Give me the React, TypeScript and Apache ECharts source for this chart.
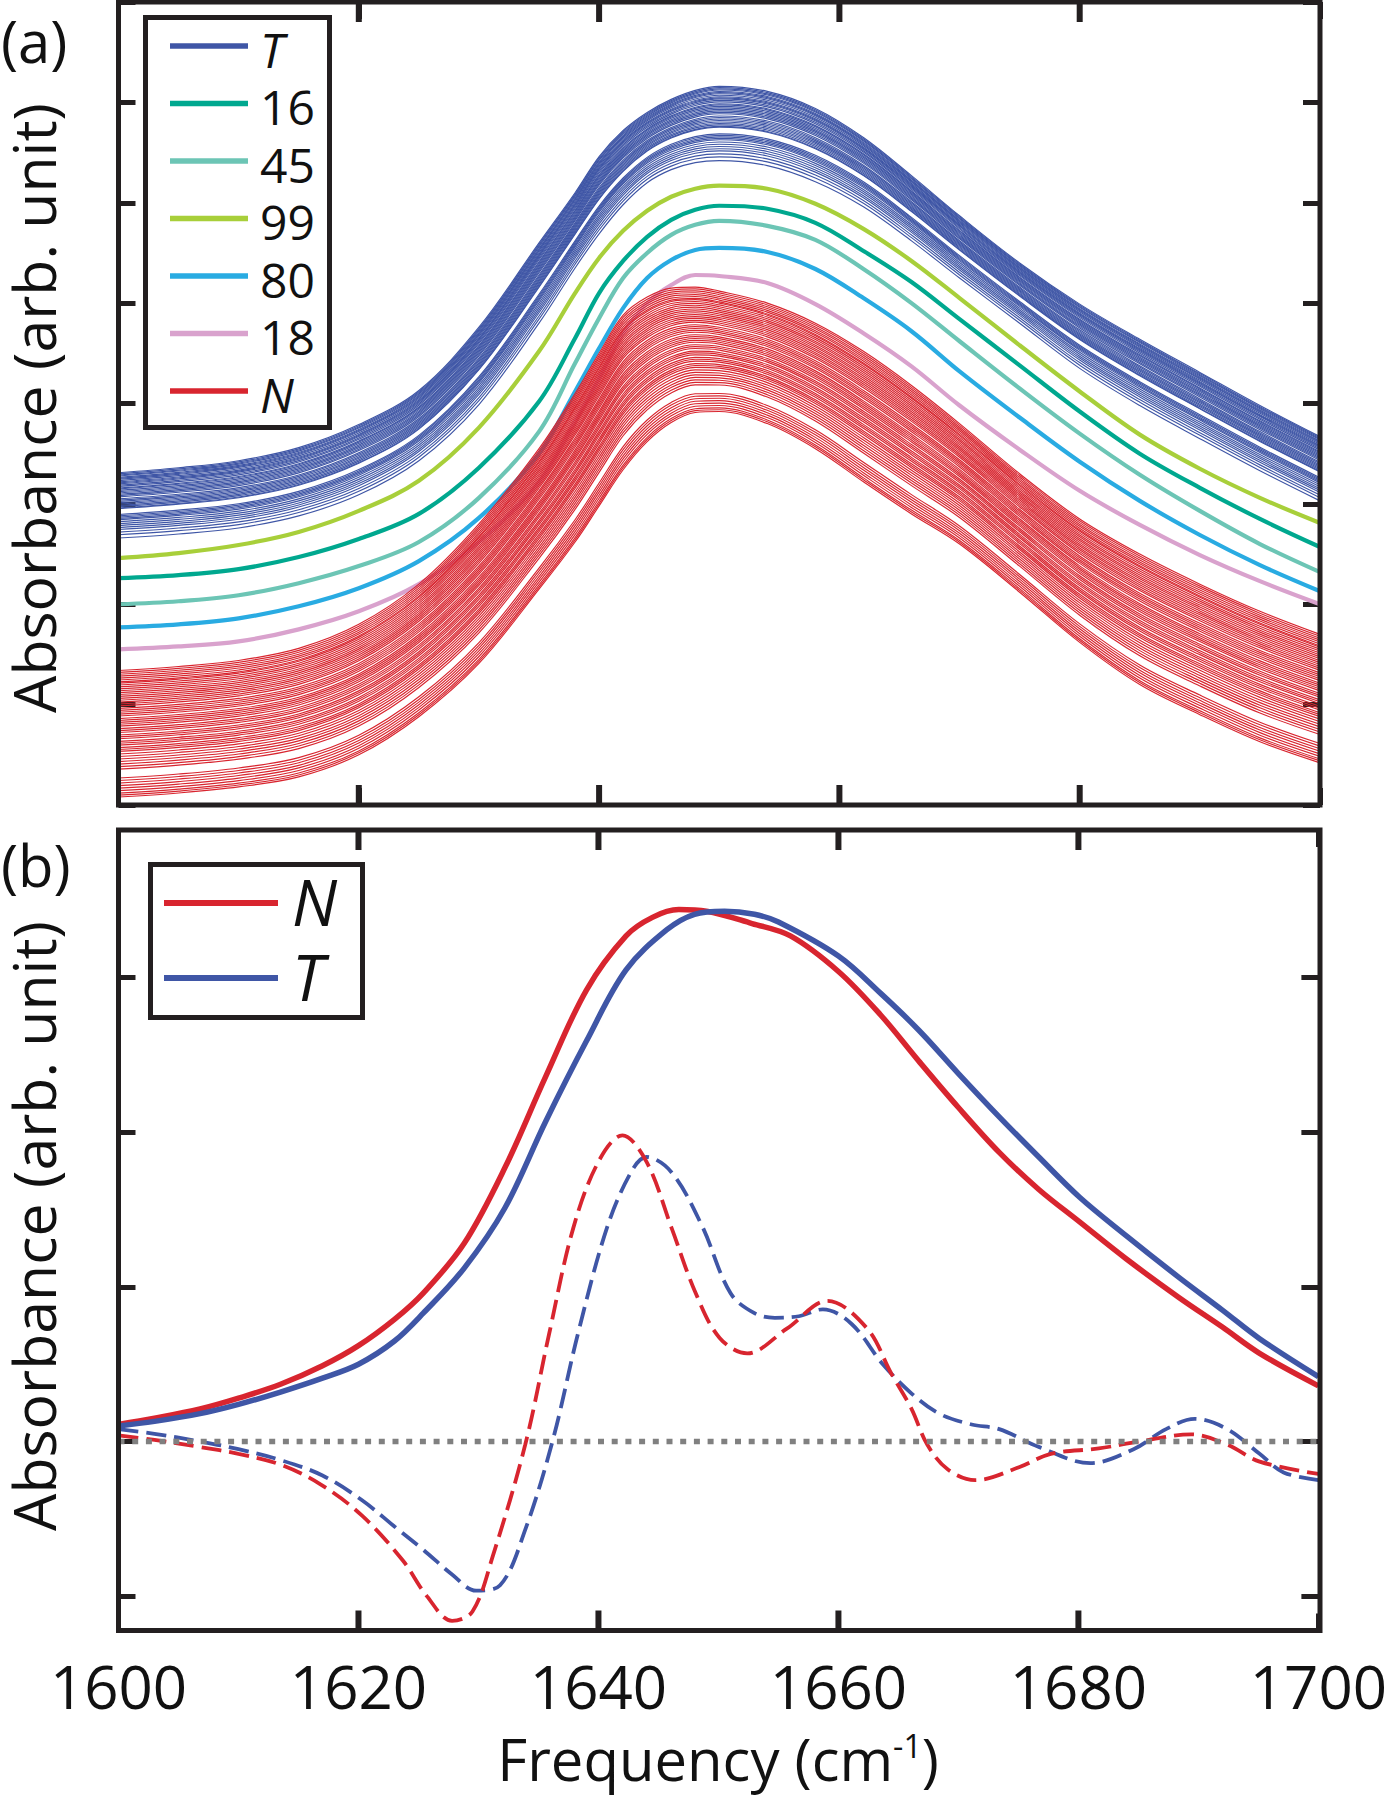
import React, { useEffect, useRef } from 'react';
import * as echarts from 'echarts';

const FONT = '"Open Sans", "Noto Sans", "DejaVu Sans", sans-serif';
const INK = '#231f20';
const TEXT = '#111111';
const BLUE = '#3F56A6';
const RED = '#D8252F';
const GREY = '#808080';

// ---------- panel (a) ----------
const FREQ_A = [1600, 1605, 1610, 1615, 1620, 1625, 1630, 1635, 1638, 1640, 1642, 1644, 1646, 1648, 1650, 1654, 1658, 1662, 1666, 1670, 1675, 1680, 1685, 1690, 1695, 1700];

// upper / lower edges of the T bundle
const T_TOP = [3.31, 3.36, 3.43, 3.56, 3.79, 4.13, 4.76, 5.60, 6.10, 6.46, 6.72, 6.90, 7.03, 7.12, 7.16, 7.11, 6.94, 6.65, 6.27, 5.87, 5.40, 4.99, 4.64, 4.31, 3.98, 3.67];
const T_BOT = [2.66, 2.70, 2.76, 2.88, 3.09, 3.43, 3.99, 4.80, 5.35, 5.69, 5.98, 6.20, 6.33, 6.40, 6.42, 6.37, 6.21, 5.96, 5.62, 5.25, 4.80, 4.35, 3.98, 3.65, 3.33, 3.03];
// upper / lower edges of the N bundle
const N_TOP = [1.34, 1.38, 1.44, 1.56, 1.80, 2.20, 2.80, 3.55, 4.10, 4.50, 4.88, 5.06, 5.15, 5.16, 5.12, 5.00, 4.80, 4.52, 4.18, 3.80, 3.30, 2.85, 2.50, 2.20, 1.93, 1.70];
const N_BOT = [0.08, 0.12, 0.18, 0.28, 0.50, 0.88, 1.41, 2.15, 2.62, 2.98, 3.34, 3.62, 3.81, 3.91, 3.92, 3.80, 3.55, 3.22, 2.90, 2.60, 2.12, 1.62, 1.20, 0.90, 0.63, 0.42];
// relative position of each individual spectrum inside its bundle (0 = top edge, 1 = bottom edge)
const T_LEVELS = [0, 0.018, 0.035, 0.05, 0.07, 0.085, 0.1, 0.12, 0.14, 0.155, 0.17, 0.19, 0.21, 0.235, 0.25, 0.27, 0.29, 0.31, 0.33, 0.35, 0.37, 0.4, 0.42, 0.44, 0.46, 0.48, 0.5, 0.52, 0.54, 0.55, 0.64, 0.66, 0.68, 0.7, 0.72, 0.75, 0.78, 0.81, 0.84, 0.87, 0.91, 0.95, 1];
const N_LEVELS = [0, 0.015, 0.03, 0.045, 0.06, 0.075, 0.09, 0.1, 0.115, 0.13, 0.145, 0.16, 0.175, 0.19, 0.205, 0.22, 0.235, 0.25, 0.265, 0.28, 0.3, 0.315, 0.33, 0.345, 0.36, 0.38, 0.395, 0.41, 0.425, 0.44, 0.46, 0.475, 0.49, 0.51, 0.525, 0.54, 0.56, 0.575, 0.59, 0.61, 0.625, 0.64, 0.66, 0.68, 0.7, 0.72, 0.74, 0.76, 0.78, 0.85, 0.87, 0.89, 0.91, 0.93, 0.95, 0.97, 0.985, 1];

const C99 = [2.46, 2.51, 2.59, 2.72, 2.93, 3.23, 3.76, 4.52, 5.10, 5.45, 5.72, 5.92, 6.06, 6.14, 6.17, 6.14, 5.99, 5.74, 5.42, 5.05, 4.58, 4.12, 3.69, 3.35, 3.06, 2.81];
const C16 = [2.26, 2.29, 2.35, 2.47, 2.65, 2.90, 3.36, 4.02, 4.65, 5.10, 5.42, 5.66, 5.83, 5.93, 5.97, 5.94, 5.80, 5.52, 5.21, 4.84, 4.38, 3.92, 3.50, 3.16, 2.85, 2.57];
const C45 = [2.00, 2.03, 2.09, 2.21, 2.38, 2.62, 3.06, 3.72, 4.40, 4.85, 5.25, 5.50, 5.68, 5.78, 5.82, 5.77, 5.63, 5.34, 5.00, 4.62, 4.15, 3.70, 3.29, 2.93, 2.60, 2.32];
const C80 = [1.77, 1.80, 1.86, 1.98, 2.16, 2.43, 2.86, 3.50, 4.12, 4.55, 4.95, 5.25, 5.43, 5.53, 5.55, 5.51, 5.34, 5.05, 4.72, 4.32, 3.86, 3.42, 3.03, 2.69, 2.39, 2.13];
const C18 = [1.55, 1.58, 1.63, 1.75, 1.93, 2.20, 2.62, 3.22, 3.82, 4.25, 4.70, 5.00, 5.18, 5.28, 5.27, 5.20, 4.99, 4.70, 4.37, 3.98, 3.54, 3.13, 2.79, 2.49, 2.23, 2.00];

const LEGEND_A_LABELS = ['T', '16', '45', '99', '80', '18', 'N'];
const LEGEND_A_COLORS = [BLUE, '#00A88F', '#6CC5B5', '#A8CF3A', '#29ABE2', '#D9A2CD', RED];
const COLORED = [
  { name: '99', values: C99, color: '#A8CF3A' },
  { name: '16', values: C16, color: '#00A88F' },
  { name: '45', values: C45, color: '#6CC5B5' },
  { name: '80', values: C80, color: '#29ABE2' },
  { name: '18', values: C18, color: '#D9A2CD' },
];

// ---------- panel (b) ----------
const N_AVG = [[1600, 0.11], [1603, 0.15], [1606.8, 0.21], [1610, 0.28], [1613.5, 0.37], [1617, 0.49], [1620, 0.62], [1623, 0.79], [1625.4, 0.96], [1628.8, 1.28], [1632.2, 1.77], [1635.6, 2.36], [1639, 2.92], [1642.3, 3.27], [1644.5, 3.39], [1646.7, 3.44], [1649, 3.43], [1652.8, 3.35], [1656, 3.27], [1660, 3.04], [1663.5, 2.76], [1666.7, 2.46], [1670, 2.16], [1673.4, 1.87], [1676.7, 1.63], [1680.1, 1.42], [1684, 1.18], [1688.4, 0.93], [1692, 0.74], [1695.1, 0.57], [1700, 0.36]];
const T_AVG = [[1600, 0.10], [1603, 0.13], [1606.8, 0.18], [1610, 0.24], [1613.5, 0.32], [1617, 0.41], [1620, 0.50], [1623, 0.65], [1625.4, 0.83], [1628.8, 1.12], [1632.2, 1.51], [1635.6, 2.07], [1639, 2.59], [1642.3, 3.05], [1645.7, 3.31], [1648, 3.41], [1650.5, 3.43], [1653, 3.41], [1655, 3.36], [1660, 3.14], [1663.5, 2.90], [1666.7, 2.66], [1670, 2.38], [1673.4, 2.10], [1676.7, 1.84], [1680.1, 1.58], [1684, 1.33], [1688.4, 1.06], [1692, 0.85], [1695.1, 0.665], [1700, 0.42]];
const N_D2 = [[1600, 0.04], [1603, 0.01], [1606.8, -0.036], [1610, -0.08], [1613.5, -0.15], [1616.9, -0.28], [1620.3, -0.48], [1623.7, -0.77], [1625.7, -1.0], [1627.8, -1.16], [1629.5, -1.10], [1631.2, -0.74], [1633.9, -0.02], [1635.9, 0.70], [1637.9, 1.38], [1640, 1.81], [1642, 1.98], [1644, 1.81], [1646.1, 1.38], [1648.1, 0.96], [1650.1, 0.67], [1652.4, 0.57], [1655.7, 0.73], [1659.1, 0.91], [1662.4, 0.73], [1664.4, 0.44], [1666.1, 0.21], [1667.4, -0.02], [1669.1, -0.18], [1671.4, -0.25], [1675.1, -0.165], [1677.7, -0.08], [1681.7, -0.045], [1685.1, 0.0], [1689.4, 0.046], [1692.4, -0.02], [1695.1, -0.13], [1700, -0.21]];
const T_D2 = [[1600, 0.08], [1603, 0.05], [1606.8, 0.0], [1610, -0.05], [1613.5, -0.12], [1617, -0.22], [1620.3, -0.38], [1623, -0.55], [1625.4, -0.70], [1627.8, -0.86], [1629.8, -0.965], [1631.8, -0.93], [1633.9, -0.57], [1636.2, 0.01], [1638.3, 0.70], [1640.7, 1.38], [1642.7, 1.74], [1644, 1.84], [1646.1, 1.74], [1648.6, 1.40], [1651, 0.96], [1653, 0.83], [1654.7, 0.80], [1656.7, 0.81], [1658.7, 0.855], [1661.1, 0.76], [1663.7, 0.50], [1666.1, 0.31], [1668.4, 0.18], [1671.1, 0.11], [1673.4, 0.08], [1676.7, -0.035], [1681, -0.14], [1684.6, -0.05], [1687.3, 0.08], [1689.7, 0.146], [1692.4, 0.08], [1695.1, -0.08], [1697.1, -0.20], [1700, -0.25]];
const ZERO_LINE = [[1600, 0], [1700, 0]];

const X_TICKS = [1600, 1620, 1640, 1660, 1680, 1700];
const Y_A_RANGE = [0, 8];
const Y_B_RANGE = [-1.2225, 3.955];
const Y_B_TICKS = [-1, 0, 1, 2, 3];

const LEGEND_B_LABELS = ['N', 'T'];
const LEGEND_B_COLORS = [RED, BLUE];

function buildGraphics() {
  const txt = (text: string, x: number, y: number, size: number, extra: any = {}, rotation = 0, align = 'left') => ({
    type: 'text', x, y, rotation, z: 80,
    style: {
      text, fontSize: size, fontFamily: FONT, fill: TEXT,
      align, verticalAlign: 'middle', textAlign: align, textVerticalAlign: 'middle', ...extra,
    },
  });

  const graphics: any[] = [
    // frames
    { type: 'rect', z: 70, shape: { x: 118.5, y: 2, width: 1201.5, height: 803 }, style: { fill: 'transparent', stroke: INK, lineWidth: 5 } },
    { type: 'rect', z: 70, shape: { x: 118.5, y: 830, width: 1201.5, height: 800.5 }, style: { fill: 'transparent', stroke: INK, lineWidth: 5 } },
    // legend (a)
    { type: 'rect', z: 75, shape: { x: 145.5, y: 17.5, width: 184, height: 410 }, style: { fill: '#ffffff', stroke: INK, lineWidth: 5 } },
    // legend (b)
    { type: 'rect', z: 75, shape: { x: 150.5, y: 864.5, width: 212, height: 153 }, style: { fill: '#ffffff', stroke: INK, lineWidth: 5 } },
  ];
  LEGEND_A_LABELS.forEach((lab, i) => {
    const y = 46 + i * 57.5;
    graphics.push({ type: 'line', z: 80, shape: { x1: 170, y1: y, x2: 248, y2: y }, style: { stroke: LEGEND_A_COLORS[i], lineWidth: 5.5 } });
    graphics.push(txt(lab, 260, y + 3, 48, { fontStyle: lab === 'T' || lab === 'N' ? 'italic' : 'normal', lineHeight: 48 }));
  });
  LEGEND_B_LABELS.forEach((lab, i) => {
    const y = 903 + i * 75;
    graphics.push({ type: 'line', z: 80, shape: { x1: 164, y1: y, x2: 278, y2: y }, style: { stroke: LEGEND_B_COLORS[i], lineWidth: 6 } });
    graphics.push(txt(lab, 292, y - 2, 64, { fontStyle: 'italic', lineHeight: 64 }));
  });
  // panel tags and axis titles
  graphics.push(txt('(a)', 1, 40, 58));
  graphics.push(txt('(b)', 1, 864, 58));
  graphics.push(txt('Absorbance (arb. unit)', 33, 408, 59, { lineHeight: 56 }, Math.PI / 2, 'center'));
  graphics.push(txt('Absorbance (arb. unit)', 33, 1226, 59, { lineHeight: 56 }, Math.PI / 2, 'center'));
  graphics.push(txt('Frequency (cm{s|-1})', 718, 1758, 58, {
    rich: { s: { fontSize: 32, fontFamily: FONT, fill: TEXT, verticalAlign: 'top' } },
  }, 0, 'center'));
  return graphics;
}

function buildOption() {
  const mkTick = () => ({ show: true, inside: true, length: 17, lineStyle: { color: INK, width: 5 } });
  const noLine = () => ({ show: false, onZero: false });
  const xAxis = (gridIndex: number, position: string, labels: boolean) => ({
    type: 'value', gridIndex, position,
    min: X_TICKS[0], max: X_TICKS[X_TICKS.length - 1], interval: X_TICKS[1] - X_TICKS[0],
    axisLine: noLine(), axisTick: mkTick(), splitLine: { show: false },
    axisLabel: labels
      ? {
          show: true, fontSize: 60, fontFamily: FONT, color: TEXT, margin: 25,
          showMinLabel: true, showMaxLabel: true, formatter: (v: number) => String(v),
        }
      : { show: false },
  });
  const yA = (position: string) => ({
    type: 'value', gridIndex: 0, position, min: Y_A_RANGE[0], max: Y_A_RANGE[1], interval: 1,
    axisLine: noLine(), axisTick: mkTick(), axisLabel: { show: false }, splitLine: { show: false },
  });
  const yB = (position: string) => ({
    type: 'value', gridIndex: 1, position, min: Y_B_RANGE[0], max: Y_B_RANGE[1],
    axisLine: noLine(), axisTick: { ...mkTick(), customValues: Y_B_TICKS },
    axisLabel: { show: false, customValues: Y_B_TICKS }, splitLine: { show: false },
  });

  const line = (data: number[][], color: string, width: number, xi: number, yi: number, extra: any = {}) => ({
    type: 'line', data, xAxisIndex: xi, yAxisIndex: yi, showSymbol: false, symbol: 'none',
    smooth: 0.35, silent: true, animation: false,
    lineStyle: { color, width, ...extra },
  });

  const bundle = (top: number[], bot: number[], levels: number[], color: string) =>
    levels.map((f) => line(FREQ_A.map((x, k) => [x, top[k] + f * (bot[k] - top[k])]), color, 1.15, 0, 0));

  // inward x ticks on the bottom and top frame of each panel (tick length: 20 px expressed in y units)
  const xTicks = (xi: number, yi: number, range: number[]) => {
    const len = (20 / (yi === 0 ? 803 : 800.5)) * (range[1] - range[0]);
    const out: any[] = [];
    X_TICKS.slice(1, -1).forEach((v) => {
      out.push({ ...line([[v, range[0]], [v, range[0] + len]], INK, 6, xi, yi, { cap: 'butt' }), smooth: false, z: 5, clip: false });
      out.push({ ...line([[v, range[1]], [v, range[1] - len]], INK, 6, xi, yi, { cap: 'butt' }), smooth: false, z: 5, clip: false });
    });
    return out;
  };

  const series: any[] = [
    ...bundle(T_TOP, T_BOT, T_LEVELS, BLUE),
    ...COLORED.map((c) => line(FREQ_A.map((x, k) => [x, c.values[k]]), c.color, 4.2, 0, 0)),
    ...bundle(N_TOP, N_BOT, N_LEVELS, RED),
    line(T_D2, BLUE, 3.8, 2, 2, { type: [20, 8] }),
    line(N_D2, RED, 3.8, 2, 2, { type: [20, 8] }),
    { ...line(ZERO_LINE, GREY, 5.5, 2, 2, { type: [6, 7.7], cap: 'butt' }), smooth: false },
    line(N_AVG, RED, 5.5, 2, 2),
    line(T_AVG, BLUE, 5.5, 2, 2),
    ...xTicks(0, 0, Y_A_RANGE),
    ...xTicks(2, 2, Y_B_RANGE),
  ];

  return {
    animation: false,
    backgroundColor: '#ffffff',
    grid: [
      { left: 118.5, top: 2, width: 1201.5, height: 803, containLabel: false },
      { left: 118.5, top: 830, width: 1201.5, height: 800.5, containLabel: false },
    ],
    xAxis: [xAxis(0, 'bottom', false), xAxis(0, 'top', false), xAxis(1, 'bottom', true), xAxis(1, 'top', false)],
    yAxis: [yA('left'), yA('right'), yB('left'), yB('right')],
    series,
    graphic: { elements: buildGraphics() },
  };
}

export default function App() {
  const ref = useRef<HTMLDivElement>(null);
  useEffect(() => {
    const chart = echarts.init(ref.current as HTMLDivElement, null, { renderer: 'svg' });
    chart.setOption(buildOption() as any);
    return () => chart.dispose();
  }, []);
  return (
    <div
      ref={ref}
      style={{ position: 'absolute', left: 0, top: 0, width: 1390, height: 1800, background: '#ffffff' }}
    />
  );
}
